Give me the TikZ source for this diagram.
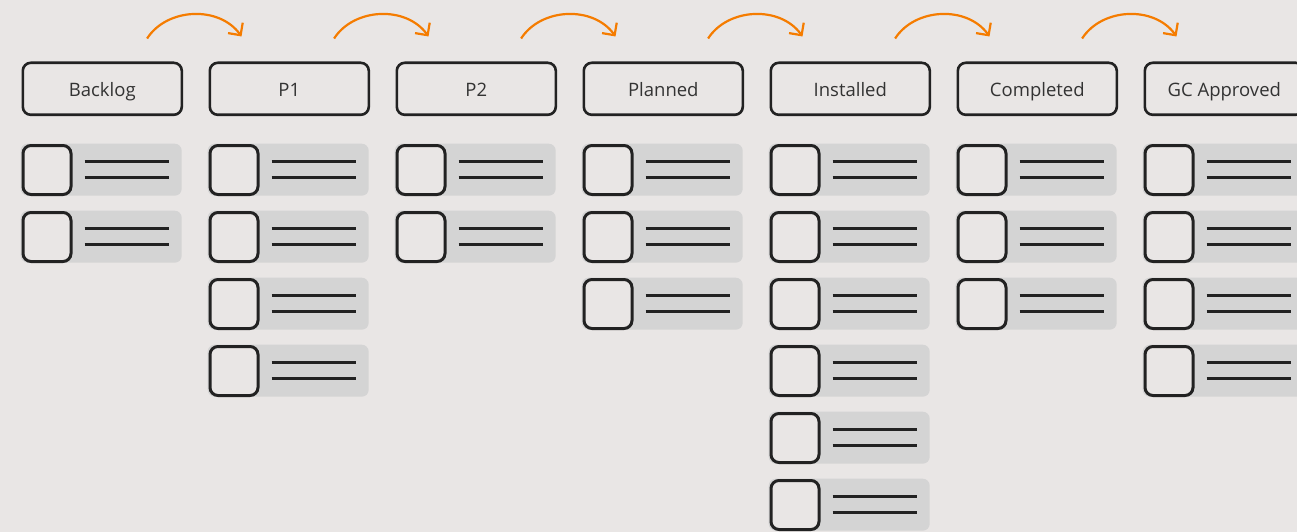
\documentclass[tikz,border=0pt]{standalone}
\usepackage{fontspec}
\setmainfont{Open Sans}
\usetikzlibrary{arrows.meta,calc}
\definecolor{bgc}{HTML}{E9E6E5}
\definecolor{cardc}{HTML}{D4D4D4}
\definecolor{inkc}{HTML}{222222}
\definecolor{txtc}{HTML}{333333}
\definecolor{flowc}{HTML}{F57C00}
\tikzset{
  colhead/.style={draw=inkc, line width=2.6pt, rounded corners=8pt, fill=bgc,
    minimum width=159pt, minimum height=52pt, inner sep=0pt, anchor=north west,
    text height=14.5pt, text depth=0pt,
    text=txtc, font=\fontsize{18.5}{20}\selectfont},
  cardbar/.style={fill=cardc, rounded corners=7pt, minimum width=161pt,
    minimum height=52pt, inner sep=0pt, anchor=north west},
  tick/.style={draw=inkc, line width=3pt, rounded corners=8pt, fill=bgc,
    minimum width=48pt, minimum height=49pt, inner sep=0pt, anchor=north west},
  rule/.style={draw=inkc, line width=2.6pt},
  flow/.style={draw=flowc, line width=2.2pt,
    -{Straight Barb[length=9pt,width=18pt,line width=2.2pt]}},
}
\begin{document}
\begin{tikzpicture}[x=1pt,y=-1pt]
\useasboundingbox[fill=bgc] (0,0) rectangle (1297,532);
% columns: index / label / number of cards
\foreach \i/\lbl/\n in {0/Backlog/2,1/P1/4,2/P2/2,3/Planned/3,4/Installed/6,5/Completed/3,6/GC Approved/4}{
  \pgfmathsetmacro{\cx}{21.5+187*\i}
  \node[colhead] (h\i) at (\cx,61.5) {\lbl};
  \foreach \k in {1,...,\n}{
    \pgfmathsetmacro{\cy}{143.5+67*(\k-1)}
    \node[cardbar] (c\i-\k) at (\cx-1,\cy) {};
    \node[tick] (b\i-\k) at (\cx,\cy+0.5) {};
    \draw[rule] ($(c\i-\k.west)+(64,-8)$) -- ($(c\i-\k.west)+(148,-8)$);
    \draw[rule] ($(c\i-\k.west)+(64,7.5)$) -- ($(c\i-\k.west)+(148,7.5)$);
  }
}
% flow arrows between neighbouring columns
\foreach \i [evaluate=\i as \j using int(\i+1)] in {0,...,5}{
  \coordinate (s\i) at ($(h\i.north east)+(-36,-23)$);
  \coordinate (e\i) at ($(h\j.north west)+(33,-25)$);
  \draw[flow] (s\i) .. controls ($(s\i)+(20,-31)$) and ($(e\i)+(-22,-31)$) .. (e\i);
}
\end{tikzpicture}
\end{document}
